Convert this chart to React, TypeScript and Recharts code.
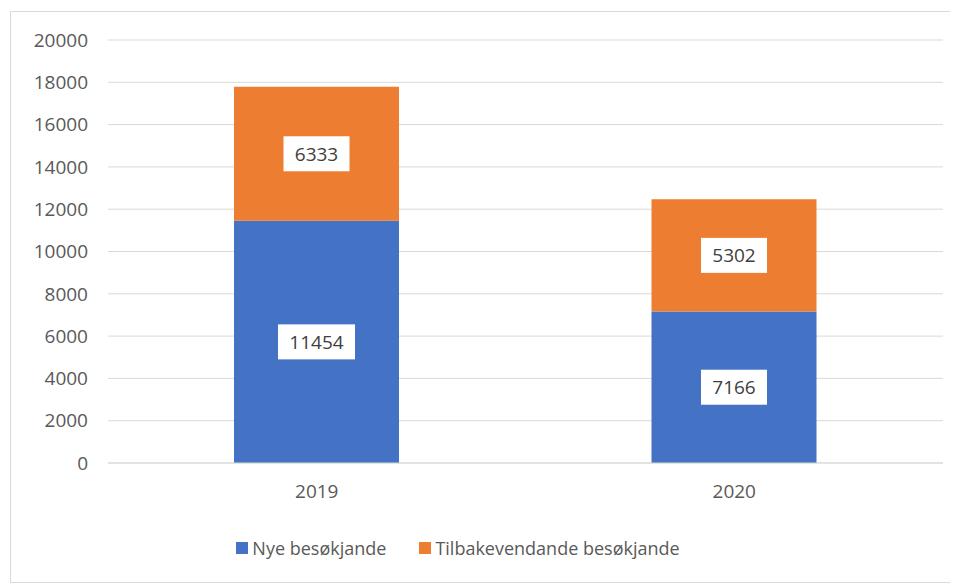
import React from "react";
import { Bar, BarChart, CartesianGrid, LabelList, Legend, XAxis, YAxis } from "recharts";

const years = ["2019", "2020"];
const nyeBesokjande = [11454, 7166];
const tilbakevendande = [6333, 5302];
const yTicks = [0, 2000, 4000, 6000, 8000, 10000, 12000, 14000, 16000, 18000, 20000];

const SERIES = [
  { key: "nye", name: "Nye besøkjande", color: "#4472C4" },
  { key: "tilbake", name: "Tilbakevendande besøkjande", color: "#ED7D31" },
];

const data = years.map((year, i) => ({
  year,
  nye: nyeBesokjande[i],
  tilbake: tilbakevendande[i],
}));

const FONT = "'Open Sans', 'Noto Sans', sans-serif";

// white box with the value, centred in the segment
const BoxLabel = (props: any) => {
  const { x, y, width, height, value } = props;
  const text = String(value);
  const w = text.length * 11 + 22;
  const h = 35;
  const cx = Number(x) + Number(width) / 2;
  const cy = Number(y) + Number(height) / 2;
  return (
    <g>
      <rect x={cx - w / 2} y={cy - h / 2} width={w} height={h} fill="#ffffff" />
      <text x={cx} y={cy} textAnchor="middle" dominantBaseline="central" fontSize={19} fill="#404040" fontFamily={FONT}>
        {text}
      </text>
    </g>
  );
};

const LegendContent = () => (
  <div style={{ display: "flex", justifyContent: "center", gap: 33, fontFamily: FONT, fontSize: 18, color: "#595959", lineHeight: "24px" }}>
    {SERIES.map((s) => (
      <div key={s.key} style={{ display: "flex", alignItems: "center", gap: 4 }}>
        <span style={{ width: 12, height: 12, background: s.color, display: "inline-block" }} />
        <span>{s.name}</span>
      </div>
    ))}
  </div>
);

export default function App() {
  return (
    <div style={{ position: "relative", width: 950, height: 577, overflow: "hidden" }}>
      <div
        style={{
          position: "absolute",
          left: 2,
          top: 3,
          width: 960,
          height: 572,
          border: "1px solid #d9d9d9",
          boxSizing: "border-box",
        }}
      />
      <div style={{ position: "absolute", left: 0, top: 0 }}>
        <BarChart width={950} height={575} data={data} margin={{ top: 32, right: 15, left: 0, bottom: 56 }} barSize={165}>
          <CartesianGrid vertical={false} stroke="#d9d9d9" />
          <XAxis
            dataKey="year"
            tickLine={false}
            axisLine={{ stroke: "#d9d9d9" }}
            tickSize={0}
            tickMargin={22}
            height={40}
            tick={{ fill: "#595959", fontSize: 19, fontFamily: FONT }}
          />
          <YAxis
            width={100}
            domain={[0, 20000]}
            ticks={yTicks}
            interval={0}
            tickLine={false}
            axisLine={false}
            tickSize={0}
            tickMargin={20}
            tick={{ fill: "#595959", fontSize: 19, fontFamily: FONT }}
          />
          <Legend
            verticalAlign="bottom"
            content={<LegendContent />}
            wrapperStyle={{ position: "absolute", top: 528, left: -25, width: 950, bottom: "auto" }}
          />
          {SERIES.map((s) => (
            <Bar key={s.key} dataKey={s.key} name={s.name} stackId="a" fill={s.color} isAnimationActive={false}>
              <LabelList dataKey={s.key} content={<BoxLabel />} />
            </Bar>
          ))}
        </BarChart>
      </div>
    </div>
  );
}
